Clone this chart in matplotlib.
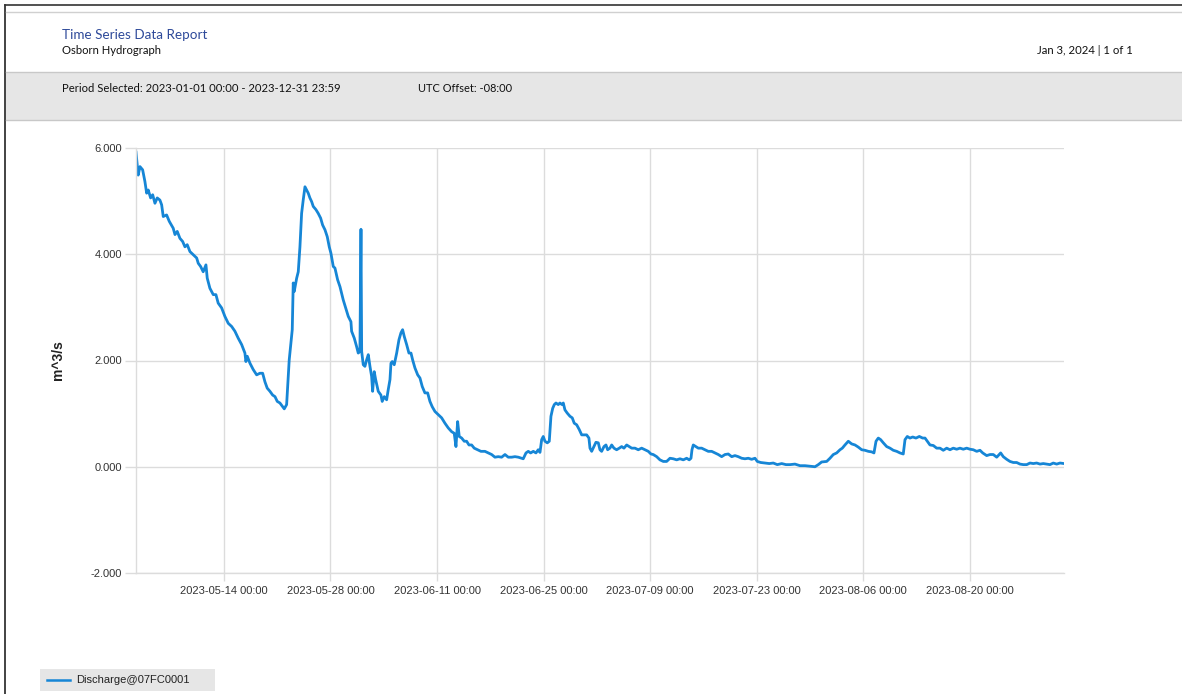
import matplotlib
matplotlib.use("Agg")
import matplotlib.pyplot as plt
import matplotlib.dates as mdates
from matplotlib.patches import Rectangle
from matplotlib.lines import Line2D
import numpy as np
import pandas as pd

# Discharge readings: (days since 2023-05-01 00:00, discharge in m^3/s)
spring_recession = [
    (1.45, 5.92), (1.74, 5.49), (1.97, 5.65), (2.32, 5.59), (2.62, 5.37), (2.85, 5.15),
    (3.06, 5.21), (3.37, 5.06), (3.64, 5.12), (3.94, 4.96), (4.24, 5.06), (4.59, 5.02),
    (4.82, 4.93), (5.03, 4.71), (5.47, 4.74), (5.82, 4.62), (6.34, 4.49), (6.57, 4.37),
    (6.87, 4.43), (7.22, 4.30), (7.58, 4.24), (7.88, 4.14), (8.18, 4.18), (8.54, 4.05),
    (8.97, 3.99), (9.42, 3.93), (9.63, 3.83), (9.94, 3.77), (10.28, 3.67), (10.64, 3.80),
    (10.81, 3.55), (11.16, 3.36), (11.60, 3.24), (11.95, 3.24), (12.25, 3.08), (12.70, 2.99),
    (13.13, 2.83), (13.57, 2.70), (14.02, 2.64), (14.45, 2.55), (14.88, 2.42), (15.33, 2.30),
    (15.76, 2.14), (15.89, 1.98), (16.07, 2.08), (16.42, 1.95), (16.85, 1.83), (17.30, 1.73),
    (17.73, 1.76), (18.09, 1.76), (18.39, 1.60), (18.69, 1.48), (19.05, 1.42), (19.40, 1.35),
    (19.71, 1.32), (20.01, 1.23), (20.36, 1.20), (20.72, 1.13), (20.93, 1.09), (21.24, 1.17),
    (21.58, 2.01), (21.98, 2.58), (22.11, 3.46), (22.24, 3.30), (22.56, 3.55), (22.77, 3.67),
    (22.99, 4.14), (23.21, 4.77), (23.42, 5.02), (23.65, 5.27), (23.87, 5.21), (24.08, 5.15),
    (24.30, 5.06), (24.53, 4.99), (24.74, 4.90), (25.09, 4.84), (25.39, 4.77), (25.71, 4.68),
    (25.97, 4.55), (26.28, 4.46), (26.58, 4.33), (26.84, 4.14),
]

june_recession = [
    (27.06, 4.02), (27.37, 3.77), (27.59, 3.74), (27.94, 3.52), (28.25, 3.39), (28.68, 3.14),
    (29.00, 2.99), (29.34, 2.83), (29.69, 2.73), (29.78, 2.55), (30.13, 2.42), (30.44, 2.26),
    (30.65, 2.14), (30.87, 2.17), (31.01, 4.47), (31.10, 2.17), (31.31, 1.92), (31.53, 1.89),
    (31.75, 2.01), (31.97, 2.11), (32.19, 1.89), (32.41, 1.70), (32.54, 1.42), (32.75, 1.79),
    (32.94, 1.64), (33.28, 1.42), (33.63, 1.35), (33.80, 1.23), (34.07, 1.32), (34.38, 1.26),
    (34.59, 1.45), (34.82, 1.64), (34.95, 1.95), (35.12, 1.98), (35.38, 1.92), (35.70, 2.14),
    (36.00, 2.39), (36.26, 2.52), (36.48, 2.58), (36.70, 2.45), (37.01, 2.30), (37.31, 2.14),
    (37.58, 2.14), (37.80, 2.01), (38.10, 1.86), (38.46, 1.73), (38.76, 1.67), (39.06, 1.51),
    (39.41, 1.39), (39.77, 1.39), (40.07, 1.23), (40.37, 1.13), (40.73, 1.04), (41.16, 0.98),
    (41.61, 0.92), (42.04, 0.82), (42.48, 0.73), (42.92, 0.66), (43.26, 0.63), (43.49, 0.38),
    (43.71, 0.85), (43.92, 0.57), (44.24, 0.54), (44.58, 0.48), (44.89, 0.48), (45.20, 0.41),
    (45.55, 0.41), (45.89, 0.35), (46.34, 0.32), (46.77, 0.29), (47.30, 0.29), (47.73, 0.26),
    (48.18, 0.23), (48.61, 0.18), (49.05, 0.19), (49.49, 0.18), (49.93, 0.23), (50.36, 0.18),
    (50.81, 0.18), (51.24, 0.19), (51.68, 0.18),
]

july_period = [
    (52.33, 0.15), (52.69, 0.26), (52.99, 0.29), (53.30, 0.26), (53.65, 0.29), (54.00, 0.26),
    (54.30, 0.32), (54.53, 0.27), (54.75, 0.51), (54.96, 0.57), (55.18, 0.48), (55.49, 0.45),
    (55.75, 0.48), (55.97, 0.95), (56.20, 1.10), (56.41, 1.17), (56.63, 1.20), (56.93, 1.17),
    (57.15, 1.20), (57.42, 1.17), (57.59, 1.20), (57.81, 1.07), (58.11, 1.01), (58.47, 0.95),
    (58.77, 0.92), (59.03, 0.82), (59.35, 0.79), (59.69, 0.70), (60.01, 0.60), (60.31, 0.60),
    (60.66, 0.60), (60.96, 0.54), (61.10, 0.35), (61.32, 0.29), (61.62, 0.38), (61.88, 0.46),
    (62.19, 0.45), (62.41, 0.32), (62.63, 0.29), (62.94, 0.38), (63.20, 0.41), (63.42, 0.32),
    (63.72, 0.35), (63.95, 0.41), (64.25, 0.35), (64.60, 0.32), (64.95, 0.35), (65.26, 0.38),
    (65.56, 0.35), (65.92, 0.41), (66.26, 0.38), (66.58, 0.35), (67.01, 0.35), (67.44, 0.32),
    (67.89, 0.35), (68.32, 0.32), (68.76, 0.29), (69.11, 0.24), (69.41, 0.23), (69.86, 0.19),
    (70.29, 0.13), (70.73, 0.10), (71.17, 0.10), (71.61, 0.16), (72.04, 0.15), (72.49, 0.13),
    (72.92, 0.15), (73.36, 0.13), (73.80, 0.16), (74.14, 0.13), (74.37, 0.16), (74.50, 0.32),
    (74.67, 0.41), (74.99, 0.38), (75.33, 0.35), (75.77, 0.35), (76.21, 0.32), (76.64, 0.29),
    (77.09, 0.29), (77.52, 0.26), (77.96, 0.23), (78.40, 0.19), (78.84, 0.23), (79.27, 0.24),
    (79.72, 0.19), (80.15, 0.21), (80.58, 0.19), (81.03, 0.16), (81.46, 0.15), (81.90, 0.16),
    (82.34, 0.14), (82.78, 0.16), (83.08, 0.10), (83.53, 0.08), (84.09, 0.07), (84.66, 0.06),
    (85.18, 0.07), (85.71, 0.04), (86.29, 0.06), (86.85, 0.04),
]

august_period = [
    (87.38, 0.04), (88.03, 0.05), (88.69, 0.02), (89.35, 0.02), (90.00, 0.01), (90.66, 0.00),
    (91.10, 0.04), (91.54, 0.09), (92.20, 0.10), (92.63, 0.16), (93.07, 0.23), (93.51, 0.26),
    (93.95, 0.32), (94.25, 0.35), (94.60, 0.41), (95.04, 0.48), (95.48, 0.43), (95.92, 0.41),
    (96.35, 0.37), (96.80, 0.32), (97.23, 0.31), (97.67, 0.29), (98.11, 0.28), (98.41, 0.26),
    (98.68, 0.48), (98.98, 0.54), (99.29, 0.51), (99.64, 0.45), (100.08, 0.38), (100.52, 0.35),
    (100.95, 0.31), (101.40, 0.29), (101.83, 0.26), (102.26, 0.24), (102.49, 0.51), (102.79, 0.57),
    (103.14, 0.54), (103.50, 0.56), (103.93, 0.54), (104.37, 0.57), (104.81, 0.54), (105.12, 0.54),
    (105.42, 0.48), (105.77, 0.41), (106.21, 0.40), (106.65, 0.35), (107.09, 0.35), (107.52, 0.31),
    (107.97, 0.35), (108.40, 0.32), (108.83, 0.35), (109.28, 0.33), (109.71, 0.35), (110.15, 0.33),
    (110.59, 0.35), (111.03, 0.33), (111.46, 0.32), (111.91, 0.29), (112.34, 0.31), (112.70, 0.26),
    (113.22, 0.21), (113.66, 0.23), (114.09, 0.23), (114.54, 0.18), (115.06, 0.26), (115.40, 0.19),
    (115.85, 0.14), (116.28, 0.10), (116.72, 0.08), (117.16, 0.08), (117.60, 0.05), (118.03, 0.04),
    (118.48, 0.04), (118.91, 0.07), (119.35, 0.06), (119.79, 0.07), (120.23, 0.05), (120.66, 0.06),
    (121.11, 0.05), (121.54, 0.04), (121.97, 0.07), (122.42, 0.05), (122.85, 0.07), (123.38, 0.06),
]

series_origin = "2023-05-01 00:00"
series_name = "Discharge@07FC0001"
y_ticks = [-2.0, 0.0, 2.0, 4.0, 6.0]
x_tick_dates = ["2023-05-14", "2023-05-28", "2023-06-11", "2023-06-25",
                "2023-07-09", "2023-07-23", "2023-08-06", "2023-08-20"]

report_title = "Time Series Data Report"
report_subtitle = "Osborn Hydrograph"
report_stamp = "Jan 3, 2024 | 1 of 1"
period_text = "Period Selected: 2023-01-01 00:00 - 2023-12-31 23:59"
offset_text = "UTC Offset: -08:00"
y_label = "m^3/s"

readings = np.array(spring_recession + june_recession + july_period + august_period)
times = pd.Timestamp(series_origin) + pd.to_timedelta(readings[:, 0], unit="D")
flow = readings[:, 1]

LINE = "#1686d6"
GRID = "#dcdcdc"
TXT = "#333333"
FONT = "Liberation Sans"

W, H = 1182, 694
fig = plt.figure(figsize=(W / 100, H / 100), dpi=100)
fig.patch.set_facecolor("white")

# Report header: page border, title block and period band
fig.add_artist(Line2D([5 / W, 5 / W], [0, 1 - 5 / H], color="#222222", lw=1.2))
fig.add_artist(Line2D([5 / W, 1], [1 - 5 / H, 1 - 5 / H], color="#333333", lw=1.2))
fig.add_artist(Line2D([6 / W, 1], [1 - 12 / H, 1 - 12 / H], color="#d0d0d0", lw=1.0))
fig.add_artist(Rectangle((6 / W, 1 - 120 / H), 1 - 6 / W, 48 / H, transform=fig.transFigure,
                         facecolor="#e6e6e6", edgecolor="none"))
fig.add_artist(Line2D([6 / W, 1], [1 - 72 / H, 1 - 72 / H], color="#c8c8c8", lw=1.0))
fig.add_artist(Line2D([6 / W, 1], [1 - 120 / H, 1 - 120 / H], color="#c8c8c8", lw=1.0))

fig.text(62 / W, 1 - 35 / H, report_title, color="#2e4a9a", fontsize=9.7,
         family="Lato", va="center", ha="left")
fig.text(62 / W, 1 - 51 / H, report_subtitle, color="#111111", fontsize=8.1,
         family="Lato", va="center", ha="left")
fig.text(1133 / W, 1 - 51 / H, report_stamp, color="#111111", fontsize=8.2,
         family="Lato", va="center", ha="right")
fig.text(62 / W, 1 - 88 / H, period_text, color="#111111", fontsize=8.1,
         family="Lato", va="center", ha="left")
fig.text(418 / W, 1 - 88 / H, offset_text, color="#111111", fontsize=7.9,
         family="Lato", va="center", ha="left")

# Hydrograph
ax = fig.add_axes([136 / W, 1 - 573 / H, (1064 - 136) / W, (573 - 148) / H])
ax.plot(times, flow, color=LINE, lw=2.0, solid_joinstyle="round")
ax.set_xlim(times[0], times[-1])
ax.set_ylim(-2, 6)
ax.set_yticks(y_ticks)
ax.yaxis.set_major_formatter(matplotlib.ticker.FormatStrFormatter("%.3f"))
ax.set_xticks(pd.to_datetime(x_tick_dates))
ax.xaxis.set_major_formatter(mdates.DateFormatter("%Y-%m-%d %H:%M"))
ax.grid(True, color=GRID, lw=1.0)
ax.set_axisbelow(True)
for side in ("top", "right"):
    ax.spines[side].set_visible(False)
for side in ("left", "bottom"):
    ax.spines[side].set_color(GRID)
    ax.spines[side].set_linewidth(1.0)
ax.tick_params(axis="y", length=8, width=1.0, color=GRID, pad=2, labelsize=8, labelcolor=TXT)
ax.tick_params(axis="x", length=6, width=1.0, color=GRID, pad=3, labelsize=8, labelcolor=TXT)
for lab in ax.get_xticklabels() + ax.get_yticklabels():
    lab.set_family(FONT)
fig.text(58 / W, 1 - 360 / H, y_label, rotation=90, fontsize=10, color="#222222",
         family=FONT, fontweight="bold", va="center", ha="center")

# Legend strip
fig.add_artist(Rectangle((40 / W, 1 - 691 / H), 175 / W, 22 / H, transform=fig.transFigure,
                         facecolor="#e6e6e6", edgecolor="none"))
fig.add_artist(Line2D([47 / W, 70 / W], [1 - 680 / H, 1 - 680 / H], color=LINE, lw=1.8))
fig.text(76 / W, 1 - 680 / H, series_name, fontsize=8, color="#222222", family=FONT,
         va="center", ha="left")

fig.savefig("out.png", dpi=100)
